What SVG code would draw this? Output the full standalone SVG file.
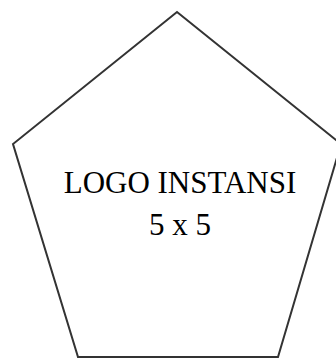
<svg xmlns="http://www.w3.org/2000/svg" width="336" height="358" viewBox="0 0 336 358">
<style>
.shape{fill:#ffffff;stroke:#333333;stroke-width:2}
.label{font-family:"Liberation Serif","Times New Roman",serif;font-size:31px;fill:#000000;text-anchor:middle}
</style>
<rect width="336" height="358" fill="#ffffff"/>
<g id="node-pentagon">
<polygon class="shape" points="177,12 341,144 278,357 78,357 13,144"/>
<text class="label" x="180" y="193">LOGO INSTANSI</text>
<text class="label" x="180" y="235">5 x 5</text>
</g>
</svg>
